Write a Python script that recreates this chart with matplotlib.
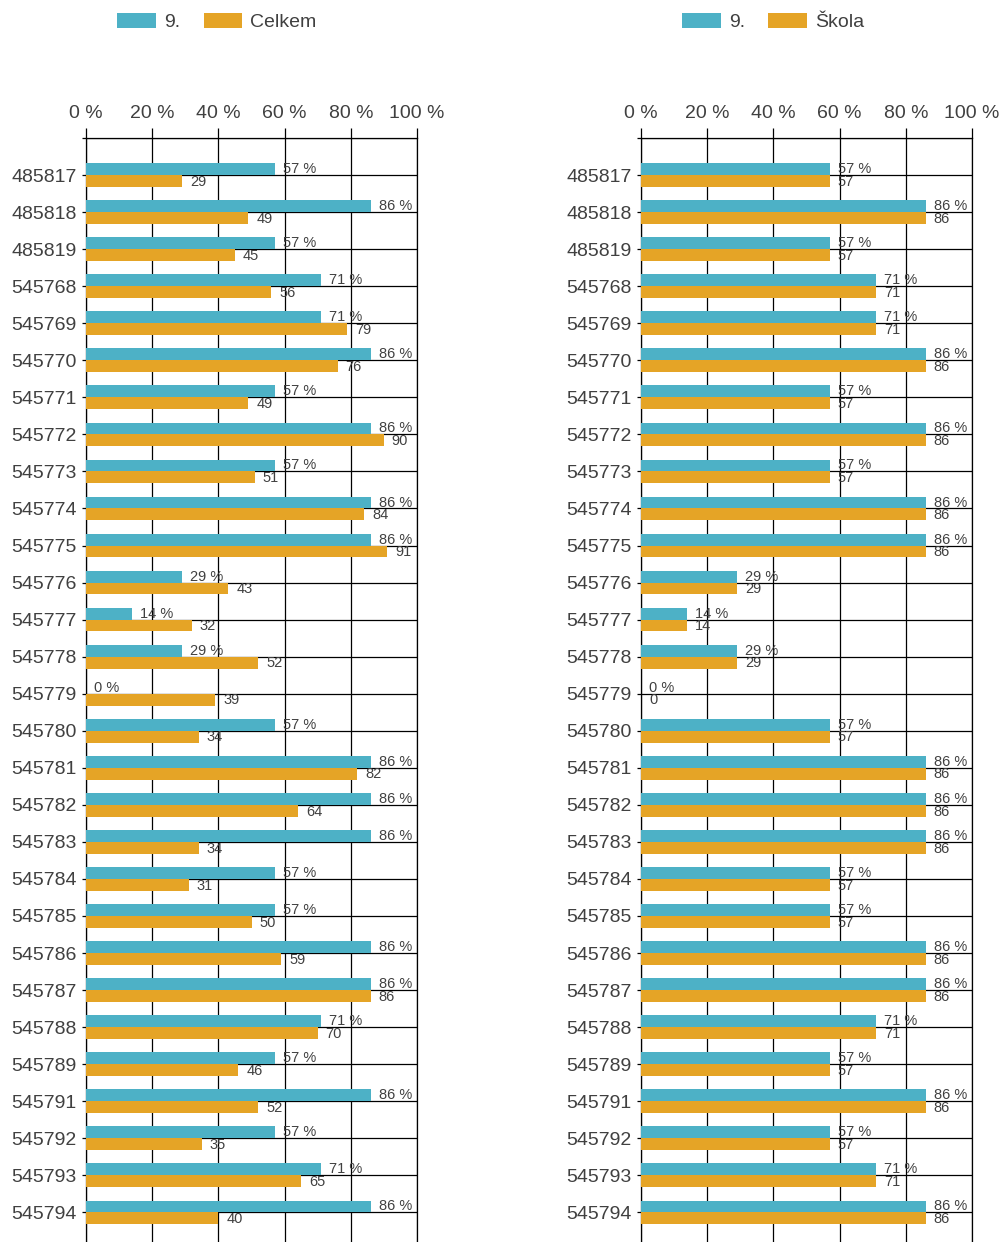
import numpy as np
import matplotlib
matplotlib.use("Agg")
import matplotlib.pyplot as plt
from matplotlib.patches import Patch

plt.rcParams['font.family'] = ['Liberation Sans', 'DejaVu Sans']

items = ["485817", "485818", "485819", "545768", "545769", "545770", "545771",
         "545772", "545773", "545774", "545775", "545776", "545777", "545778",
         "545779", "545780", "545781", "545782", "545783", "545784", "545785",
         "545786", "545787", "545788", "545789", "545791", "545792", "545793",
         "545794"]
trida = [57, 86, 57, 71, 71, 86, 57, 86, 57, 86, 86, 29, 14, 29, 0, 57, 86, 86,
         86, 57, 57, 86, 86, 71, 57, 86, 57, 71, 86]
celkem = [29, 49, 45, 56, 79, 76, 49, 90, 51, 84, 91, 43, 32, 52, 39, 34, 82, 64,
          34, 31, 50, 59, 86, 70, 46, 52, 35, 65, 40]
skola = [57, 86, 57, 71, 71, 86, 57, 86, 57, 86, 86, 29, 14, 29, 0, 57, 86, 86,
         86, 57, 57, 86, 86, 71, 57, 86, 57, 71, 86]
xticks = [0, 20, 40, 60, 80, 100]

cyan = "#4db1c6"
orange = "#e5a426"
txt = "#404040"

fig = plt.figure(figsize=(9.99, 12.42), dpi=100)

def panel(left, second, name, legend_x):
    ax = fig.add_axes([left / 999, 0, 331 / 999, (1242 - 138) / 1242])
    y = np.arange(len(items))
    h = 0.32
    ax.barh(y - h / 2, trida, height=h, color=cyan, zorder=2)
    ax.barh(y + h / 2, second, height=h, color=orange, zorder=2)
    for i in range(len(items)):
        ax.text(trida[i] + 2.4, y[i] - h / 2, f"{trida[i]} %", va="center",
                ha="left", fontsize=10.5, color=txt, zorder=4)
        ax.text(second[i] + 2.4, y[i] + h / 2 + 0.02, f"{second[i]}", va="center",
                ha="left", fontsize=10.5, color=txt, zorder=4)
    ax.set_xlim(0, 100)
    ax.set_ylim(28.8, -1)
    ax.xaxis.tick_top()
    ax.set_xticks(xticks)
    ax.set_xticklabels([f"{v} %" for v in xticks], fontsize=14, color=txt)
    ax.set_yticks(np.arange(-1, len(items)))
    ax.set_yticklabels([""] + items, fontsize=14, color=txt)
    ax.tick_params(axis="x", length=7, width=0.9, pad=4.5, color="black")
    ax.tick_params(axis="y", length=3, width=0.9, pad=3.5, color="black")
    ax.grid(True, color="black", linewidth=0.9, zorder=1)
    ax.set_axisbelow(True)
    for s in ["top", "left", "right"]:
        ax.spines[s].set_linewidth(0.9)
        ax.spines[s].set_zorder(1)
    ax.spines["bottom"].set_visible(False)
    handles = [Patch(facecolor=cyan, label="9."), Patch(facecolor=orange, label=name)]
    fig.legend(handles=handles, loc="center", bbox_to_anchor=(legend_x / 999, 1 - 22 / 1242),
               ncol=2, frameon=False, fontsize=14, handlelength=2.0, handleheight=0.8,
               handletextpad=0.4, columnspacing=1.2, labelcolor=txt)
    return ax

panel(86, celkem, "Celkem", 217)
panel(641, skola, "Škola", 773)

fig.savefig("out.png", dpi=100)
